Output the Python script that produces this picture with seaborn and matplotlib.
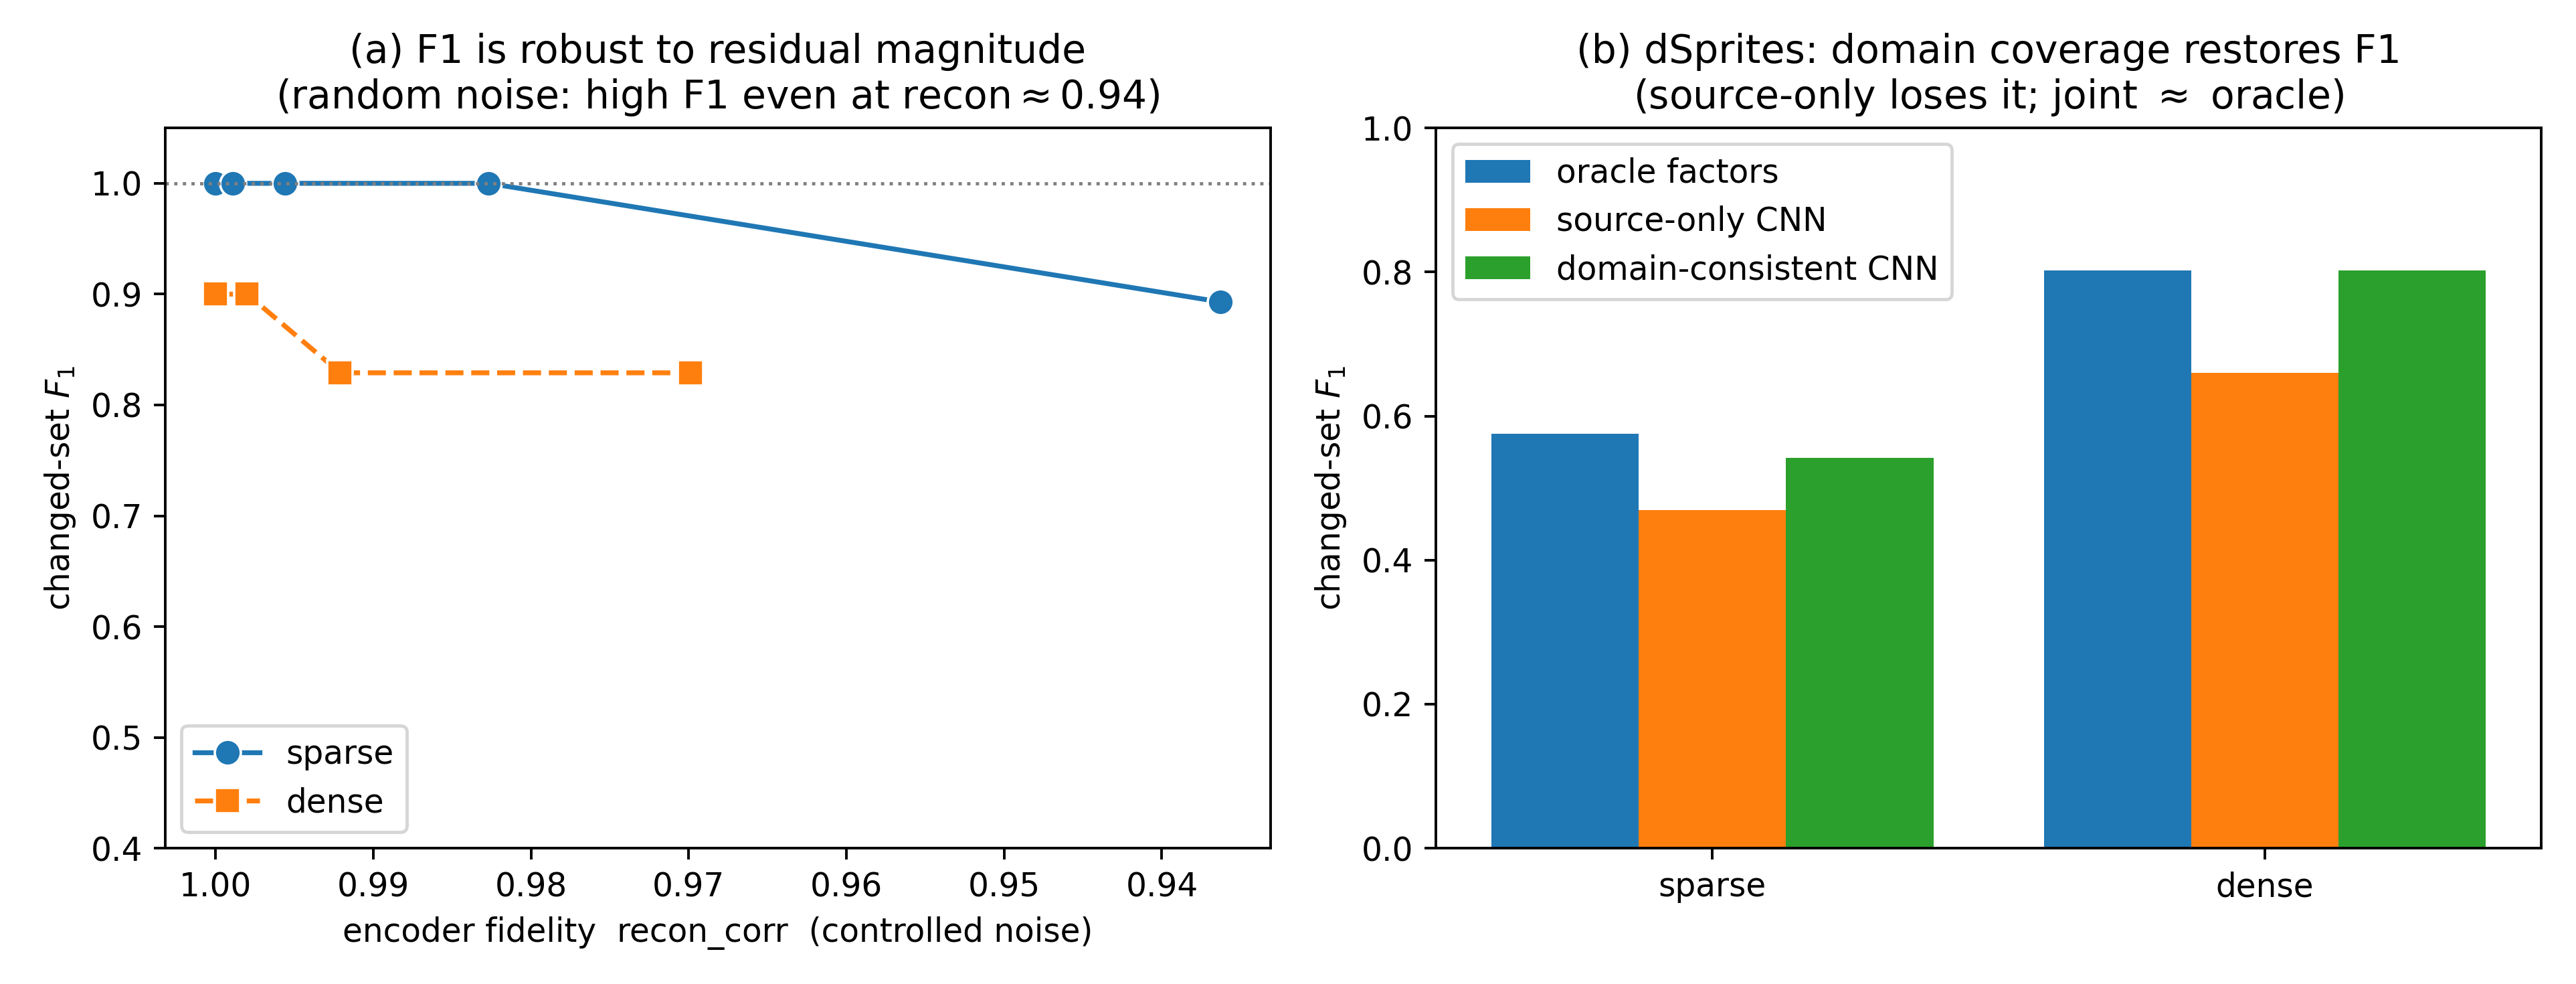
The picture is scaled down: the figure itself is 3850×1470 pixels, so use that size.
import numpy as np
import pandas as pd
import matplotlib
matplotlib.use('Agg')
import matplotlib.pyplot as plt
import seaborn as sns

# (a) changed-set F1 vs encoder fidelity under controlled noise
sparse_recon = [1.0, 0.9989, 0.9956, 0.9827, 0.9363]
sparse_f1 = [1.0, 1.0, 1.0, 1.0, 0.893]
dense_recon = [1.0, 0.998, 0.9921, 0.9699]
dense_f1 = [0.9, 0.9, 0.829, 0.829]

# (b) dSprites bars
regimes = ['sparse', 'dense']
methods = ['oracle factors', 'source-only CNN', 'domain-consistent CNN']
oracle_f1 = [0.575, 0.802]
source_f1 = [0.469, 0.660]
domain_f1 = [0.542, 0.802]

fig, (ax1, ax2) = plt.subplots(1, 2, figsize=(11, 4.2), dpi=350)
fig.subplots_adjust(left=0.0642, right=0.9865, bottom=0.138, top=0.870, wspace=0.15)

# ---- panel (a)
sns.lineplot(x=sparse_recon, y=sparse_f1, ax=ax1, color='C0', marker='o',
             markersize=8, linewidth=1.5, sort=False, label='sparse')
sns.lineplot(x=dense_recon, y=dense_f1, ax=ax1, color='C1', marker='s',
             markersize=8, linewidth=1.5, linestyle='--', sort=False, label='dense')
ax1.axhline(1.0, color='gray', linestyle=':', linewidth=1)
ax1.invert_xaxis()
ax1.set_ylim(0.4, 1.05)
ax1.set_xlabel('encoder fidelity  recon_corr  (controlled noise)')
ax1.set_ylabel('changed-set $F_1$')
ax1.set_title('(a) F1 is robust to residual magnitude\n'
              '(random noise: high F1 even at recon$\\approx$0.94)')
ax1.legend(loc='lower left')

# ---- panel (b)
bars = pd.DataFrame({
    'regime': regimes * 3,
    'method': [m for m in methods for _ in regimes],
    'f1': oracle_f1 + source_f1 + domain_f1,
})
sns.barplot(data=bars, x='regime', y='f1', hue='method', hue_order=methods,
            palette=['C0', 'C1', 'C2'], saturation=1, ax=ax2)
ax2.set_ylim(0, 1.0)
ax2.set_xlabel('')
ax2.set_ylabel('changed-set $F_1$')
ax2.set_title('(b) dSprites: domain coverage restores F1\n'
              '(source-only loses it; joint $\\approx$ oracle)')
ax2.legend(loc='upper left')

fig.savefig('out.png', dpi=350)
